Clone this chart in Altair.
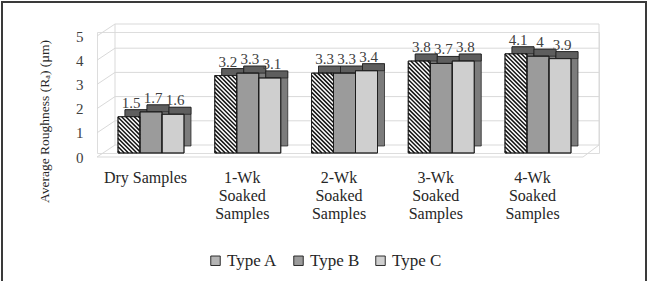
import json

import altair as alt
import pandas as pd

# ---- data -------------------------------------------------------------
CATEGORIES = [
    "Dry Samples",
    "1-Wk\nSoaked\nSamples",
    "2-Wk\nSoaked\nSamples",
    "3-Wk\nSoaked\nSamples",
    "4-Wk\nSoaked\nSamples",
]
SERIES = ["Type A", "Type B", "Type C"]
TYPE_A = [1.5, 3.2, 3.3, 3.8, 4.1]
TYPE_B = [1.7, 3.3, 3.3, 3.7, 4.0]
TYPE_C = [1.6, 3.1, 3.4, 3.8, 3.9]
Y_TICKS = [0, 1, 2, 3, 4, 5]

# ---- geometry / style ------------------------------------------------------
W, H = 502, 121            # plot area in pixels
GROUP_PX = 96.75           # pixels between category groups
FIRST_PX = 54              # centre of the first group from the left edge
BAR_PX = 22                # width of one bar
DEPTH = 7                  # pseudo-3D extrusion in pixels
HATCH = 4.2                # stripe period of the diagonal hatch
FRONT_DROP, BACK_RISE = 4, -8   # floor/wall offsets of the 3-D frame
WALL_X, FLOOR_X = 18, 486

X_DOMAIN = [-FIRST_PX / GROUP_PX, (W - FIRST_PX) / GROUP_PX]
KX = 1 / GROUP_PX          # data units per pixel along x
KY = 5 / H                 # data units per pixel along y
BW = BAR_PX * KX

SERIF = "'Liberation Serif', 'Times New Roman', Times, 'DejaVu Serif', serif"
GRID = "#d9d9d9"
INK = "#1a1a1a"

rows = []
for gi in range(len(CATEGORIES)):
    for ti, vals in enumerate([TYPE_A, TYPE_B, TYPE_C]):
        rows.append({"gi": gi, "ti": ti, "type": SERIES[ti], "v": vals[gi]})
df = pd.DataFrame(rows)

x_scale = alt.Scale(domain=X_DOMAIN, nice=False, zero=False)
y_scale = alt.Scale(domain=[0, 5], nice=False, zero=True)

label_expr = "split(" + json.dumps(CATEGORIES) + "[datum.value], '\\n')"

x_axis = alt.Axis(
    values=list(range(len(CATEGORIES))), labelExpr=label_expr,
    domain=False, ticks=False, grid=False, title=None,
    labelFont=SERIF, labelFontSize=16, labelColor="#262626",
    labelBaseline="top", labelLineHeight=18, labelPadding=16,
    labelOffset=-6, labelOverlap=False, labelFlush=False,
)
y_axis = alt.Axis(
    values=Y_TICKS, domain=False, ticks=False, grid=False,
    labelFont=SERIF, labelFontSize=15, labelColor="#404040",
    labelPadding=14, labelOffset=4,
    title="Average Roughness (R\u2090)  (\u00b5m)",
    titleFont=SERIF, titleFontSize=13.5, titleFontWeight="normal",
    titleColor="#262626", titleAngle=270, titleX=-53, titleY=89,
    titleAlign="center", titleBaseline="middle",
)


def xq(field):
    return alt.X(field, type="quantitative", scale=x_scale, axis=x_axis)


def yq(field):
    return alt.Y(field, type="quantitative", scale=y_scale, axis=y_axis)


base = alt.Chart(df).transform_calculate(
    xc=f"datum.gi + (datum.ti - 1) * {BW}"
).transform_calculate(
    xl=f"datum.xc - {BW / 2}",
    xr=f"datum.xc + {BW / 2}",
)

# ---- 3-D frame: back wall, floor and the slanted left edge ------------------
ticks = alt.Chart(pd.DataFrame({"t": Y_TICKS}))

back_grid = ticks.mark_rule(color=GRID, strokeWidth=1, yOffset=BACK_RISE).encode(
    x=alt.value(WALL_X), x2=alt.value(W), y=yq("t"),
)
side_grid = ticks.mark_rule(
    color=GRID, strokeWidth=1, yOffset=FRONT_DROP, y2Offset=BACK_RISE
).encode(
    x=alt.value(0), x2=alt.value(WALL_X), y=yq("t"), y2="t:Q",
)
one = alt.Chart(alt.Data(values=[{}]))
left_wall = one.mark_rule(color=GRID, yOffset=BACK_RISE, y2Offset=BACK_RISE).encode(
    x=alt.value(WALL_X), y=alt.datum(5, scale=y_scale, axis=y_axis), y2=alt.datum(0)
)
right_wall = one.mark_rule(color=GRID, yOffset=BACK_RISE, y2Offset=BACK_RISE).encode(
    x=alt.value(W), y=alt.datum(5, scale=y_scale, axis=y_axis), y2=alt.datum(0)
)
floor_front = one.mark_rule(color=GRID, yOffset=FRONT_DROP).encode(
    x=alt.value(0), x2=alt.value(FLOOR_X), y=alt.datum(0, scale=y_scale, axis=y_axis)
)
floor_side = one.mark_rule(color=GRID, yOffset=FRONT_DROP, y2Offset=BACK_RISE).encode(
    x=alt.value(FLOOR_X), x2=alt.value(W),
    y=alt.datum(0, scale=y_scale, axis=y_axis), y2=alt.datum(0),
)

# ---- bars: side face, top face, front face -----------------------------------
side = base.mark_rect(
    fill="#7c7c7c", stroke=INK, strokeWidth=0.7,
    xOffset=DEPTH, x2Offset=DEPTH, yOffset=-DEPTH, y2Offset=-DEPTH,
).encode(x=xq("xl"), x2="xr:Q", y=yq("v"), y2=alt.datum(0))

top = base.mark_rect(
    fill="#5e5e5e", stroke=INK, strokeWidth=0.7,
    xOffset=DEPTH, x2Offset=DEPTH, yOffset=-DEPTH,
).encode(x=xq("xl"), x2="xr:Q", y=yq("v"), y2="v:Q")

legend = alt.Legend(
    orient="none", legendX=110, legendY=220, direction="horizontal",
    title=None, symbolType="square", symbolSize=90,
    symbolStrokeColor=INK, symbolStrokeWidth=0.9,
    labelFont=SERIF, labelFontSize=17, labelColor="#262626",
    labelOffset=3, columnPadding=12,
)

front = base.mark_rect(stroke=INK, strokeWidth=0.8).encode(
    x=xq("xl"), x2="xr:Q", y=yq("v"), y2=alt.datum(0),
    fill=alt.condition(
        "datum.type === 'Type A'",
        alt.value("#ffffff"),
        alt.Fill(
            "type:N",
            scale=alt.Scale(domain=SERIES, range=["#b4b4b4", "#9b9b9b", "#cfcfcf"]),
            legend=legend,
        ),
    ),
)

# diagonal hatch on the Type A faces, clipped to each bar
hatch = base.transform_filter("datum.type === 'Type A'").transform_calculate(
    hp=f"datum.v / {KY}"
).transform_calculate(
    c=f"sequence({HATCH / 2}, datum.hp + {BAR_PX}, {HATCH})"
).transform_flatten(["c"]).transform_calculate(
    X1="max(0, datum.c - datum.hp)", X2=f"min({BAR_PX}, datum.c)"
).transform_calculate(
    hx1=f"datum.xl + datum.X1 * {KX}",
    hx2=f"datum.xl + datum.X2 * {KX}",
    hy1=f"(datum.c - datum.X1) * {KY}",
    hy2=f"(datum.c - datum.X2) * {KY}",
).mark_rule(color="#111111", strokeWidth=1.5).encode(
    x=xq("hx1"), x2="hx2:Q", y=yq("hy1"), y2="hy2:Q",
)

outline = base.mark_rect(fillOpacity=0, stroke=INK, strokeWidth=0.8).encode(
    x=xq("xl"), x2="xr:Q", y=yq("v"), y2=alt.datum(0),
)

labels = base.mark_text(
    font=SERIF, fontSize=15, color="#404040", baseline="alphabetic", dy=-9, dx=2
).encode(
    x=xq("xc"), y=yq("v"),
    text=alt.Text("v:Q", format=".1~f"),
)

frame = one.mark_rect(fillOpacity=0, stroke="#3a3a3a", strokeWidth=2).encode(
    x=alt.value(-95), x2=alt.value(549), y=alt.value(-30), y2=alt.value(262)
)

chart = alt.layer(
    back_grid, side_grid, left_wall, right_wall, floor_front, floor_side,
    side, top, front, hatch, outline, labels, frame,
).properties(
    width=W, height=H,
    padding={"left": 97, "top": 32, "right": 51, "bottom": 128},
    autosize=alt.AutoSizeParams(type="none"),
).configure_view(strokeWidth=0).configure(background="#ffffff")

chart.save("out.html", embed_options={"renderer": "svg", "actions": False})
